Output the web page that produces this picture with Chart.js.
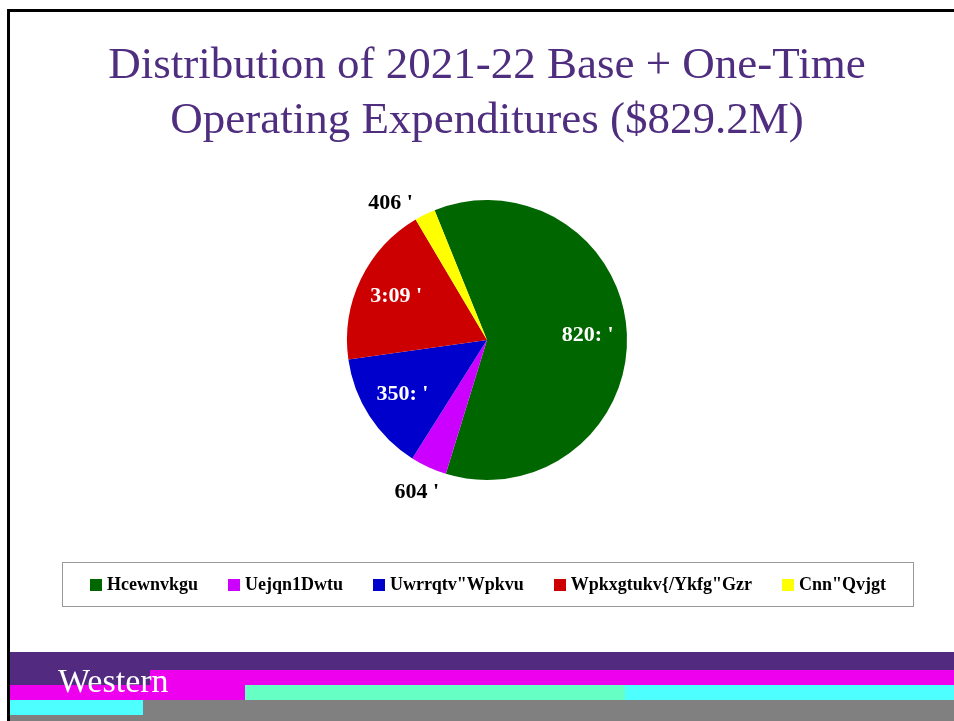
<!DOCTYPE html>
<html>
<head>
<meta charset="utf-8">
<script src="https://cdn.jsdelivr.net/npm/chart.js@4.4.0/dist/chart.umd.min.js"></script>
<style>
  body { margin: 0; background: #fff; }
  #slide { position: relative; width: 954px; height: 721px; overflow: hidden; }
  #slide canvas { position: absolute; left: 0; top: 0; }
  .bar { position: absolute; }
  #legendBox {
    position: absolute; left: 62px; top: 562px; width: 850px; height: 43px;
    border: 1px solid #999; display: flex; align-items: center; justify-content: center;
    font: bold 18px 'Liberation Serif', serif; color: #000;
  }
  .lgItem { display: flex; align-items: center; margin: 0 15px; white-space: pre; }
  .lgBox { width: 12px; height: 12px; margin-right: 5px; }
  #logoText {
    position: absolute; left: 58px; top: 664px; color: #fff;
    font: 34px 'Liberation Serif', serif; line-height: 34px;
  }
</style>
</head>
<body>
<div id="slide">
  <canvas id="pieChart"></canvas>
  <div id="legendBox"></div>

  <!-- frame -->
  <div class="bar" style="left:7px;top:9px;width:947px;height:3px;background:#000"></div>
  <div class="bar" style="left:7px;top:9px;width:3px;height:712px;background:#000"></div>

  <!-- footer band -->
  <div class="bar" style="left:10px;top:652px;width:944px;height:18px;background:#522a7f"></div>
  <div class="bar" style="left:10px;top:670px;width:140px;height:15px;background:#522a7f"></div>
  <div class="bar" style="left:150px;top:670px;width:804px;height:15px;background:#ee00ee"></div>
  <div class="bar" style="left:10px;top:685px;width:235px;height:15px;background:#ee00ee"></div>
  <div class="bar" style="left:245px;top:685px;width:380px;height:15px;background:#66ffc4"></div>
  <div class="bar" style="left:625px;top:685px;width:329px;height:15px;background:#4dffff"></div>
  <div class="bar" style="left:10px;top:700px;width:133px;height:15px;background:#4dffff"></div>
  <div class="bar" style="left:143px;top:700px;width:811px;height:21px;background:#808080"></div>
  <div class="bar" style="left:10px;top:715px;width:133px;height:6px;background:#808080"></div>
  <div id="logoText">Western</div>
</div>

<script>
const titleLines = ['Distribution of 2021-22 Base + One-Time', 'Operating Expenditures ($829.2M)'];
const categories = ['Hcewnvkgu', 'Uejqn1Dwtu', 'Uwrrqtv"Wpkvu', 'Wpkxgtukv{/Ykfg"Gzr', 'Cnn"Qvjgt'];
const shares = [60.8, 4.2, 13.8, 18.7, 2.4];
const shareText = ["820: '", "604 '", "350: '", "3:09 '", "406 '"];
const sliceColors = ['#006600', '#cc00ff', '#0000cc', '#cc0000', '#ffff00'];

// percent labels: white inside big slices, black outside small ones
const sliceLabels = {
  id: 'sliceLabels',
  afterDatasetsDraw(chart) {
    const ctx = chart.ctx;
    const meta = chart.getDatasetMeta(0);
    ctx.save();
    ctx.font = 'bold 22px "Liberation Serif"';
    ctx.textAlign = 'center';
    ctx.textBaseline = 'middle';
    meta.data.forEach((arc, i) => {
      const p = arc.getProps(['x', 'y', 'startAngle', 'endAngle', 'outerRadius'], true);
      const mid = (p.startAngle + p.endAngle) / 2;
      const inside = shares[i] > 5;
      const d = p.outerRadius * (inside ? 0.72 : 1.2);
      let x = p.x + Math.cos(mid) * d;
      let y = p.y + Math.sin(mid) * d;
      // outside label above the pie sits a bit lower and further left
      if (!inside && Math.sin(mid) < 0) { y += 14; x -= 22; }
      ctx.fillStyle = inside ? '#fff' : '#000';
      ctx.fillText(shareText[i], x, y);
    });
    ctx.restore();
  }
};

function buildLegend(chart) {
  const box = document.getElementById('legendBox');
  box.innerHTML = '';
  chart.data.labels.forEach((lbl, i) => {
    const item = document.createElement('span');
    item.className = 'lgItem';
    const sq = document.createElement('span');
    sq.className = 'lgBox';
    sq.style.background = chart.data.datasets[0].backgroundColor[i];
    item.appendChild(sq);
    item.appendChild(document.createTextNode(lbl));
    box.appendChild(item);
  });
}

const cnv = document.getElementById('pieChart');
cnv.width = 954;
cnv.height = 721;

const pieChart = new Chart(cnv.getContext('2d'), {
  type: 'pie',
  data: {
    labels: categories,
    datasets: [{
      data: shares,
      backgroundColor: sliceColors,
      borderWidth: 0
    }]
  },
  options: {
    responsive: false,
    animation: false,
    rotation: -22,
    layout: { padding: { left: 20, right: 0, top: 0, bottom: 241 } },
    plugins: {
      legend: { display: false },
      tooltip: { enabled: false },
      title: {
        display: true,
        text: titleLines,
        color: '#4f2d7f',
        font: { family: 'Liberation Serif', size: 45, weight: 'normal', lineHeight: 1.222 },
        padding: { top: 39, bottom: 51 }
      }
    }
  },
  plugins: [sliceLabels]
});

buildLegend(pieChart);
</script>
</body>
</html>
